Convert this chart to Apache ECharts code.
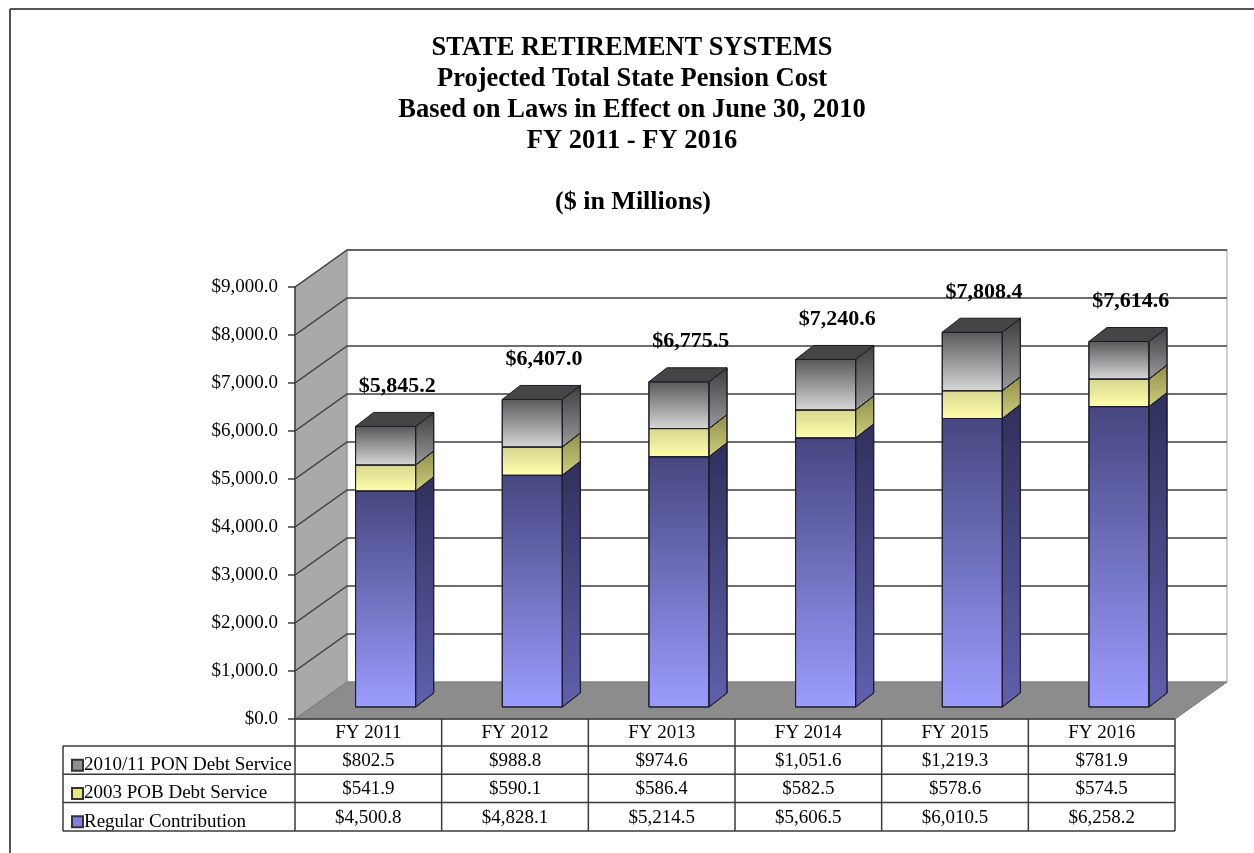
<!DOCTYPE html>
<html>
<head>
<meta charset="utf-8">
<script src="https://cdn.jsdelivr.net/npm/echarts@6/dist/echarts.min.js"></script>
<style>
html,body{margin:0;padding:0;background:#fff;}
#chart{width:1254px;height:853px;}
</style>
</head>
<body>
<div id="chart"></div>
<script>
// ---------- data ----------
const categories = ['FY 2011', 'FY 2012', 'FY 2013', 'FY 2014', 'FY 2015', 'FY 2016'];
const seriesNames = ['2010/11 PON Debt Service', '2003 POB Debt Service', 'Regular Contribution'];
const ponDebt = [802.5, 988.8, 974.6, 1051.6, 1219.3, 781.9];
const pobDebt = [541.9, 590.1, 586.4, 582.5, 578.6, 574.5];
const regular = [4500.8, 4828.1, 5214.5, 5606.5, 6010.5, 6258.2];
const totals = [5845.2, 6407.0, 6775.5, 7240.6, 7808.4, 7614.6];
const yTicks = [0, 1000, 2000, 3000, 4000, 5000, 6000, 7000, 8000, 9000];
const titleLines = ['STATE RETIREMENT SYSTEMS', 'Projected Total State Pension Cost', 'Based on Laws in Effect on June 30, 2010', 'FY 2011 - FY 2016'];
const subTitle = '($ in Millions)';

// ---------- style constants ----------
const FONT = '"Liberation Serif", "Times New Roman", serif';
const DX = 52, DY = -37;          // wall depth
const BAR_OX = 0.118, BAR_OY = -12; // bar front face offset into depth
const BAR_W = 0.41;               // front face width (fraction of band)
const BDX = 18, BDY = -14;        // bar depth
const fmt = v => '$' + v.toLocaleString('en-US', {minimumFractionDigits: 1, maximumFractionDigits: 1});

function grad(c1, c2) {
  return {type: 'linear', x: 0, y: 0, x2: 0, y2: 1, colorStops: [{offset: 0, color: c1}, {offset: 1, color: c2}]};
}
const palettes = {
  'Regular Contribution': {front: grad('#464680', '#9c9cff'), side: grad('#30305c', '#6060ae'), top: '#5a5a99', legend: '#8080e0'},
  '2003 POB Debt Service': {front: grad('#d6d690', '#ffffaa'), side: grad('#8e8e4c', '#cfcf7c'), top: '#b0b060', legend: '#e8e880'},
  '2010/11 PON Debt Service': {front: grad('#585858', '#d8d8d8'), side: grad('#3e3e3e', '#9a9a9a'), top: '#454545', legend: '#909090'}
};

const chart = echarts.init(document.getElementById('chart'), null, {renderer: 'canvas'});

function wallsRender(params, api) {
  const cs = params.coordSys;
  const L = cs.x, R = cs.x + cs.width;
  const y0 = api.coord([0, yTicks[0]])[1];
  const yMax = api.coord([0, yTicks[yTicks.length - 1]])[1];
  const children = [
    {type: 'rect', shape: {x: L + DX, y: yMax + DY, width: R - L, height: y0 - yMax},
     style: {fill: '#ffffff', stroke: '#c4c4c4', lineWidth: 1.5}},
    {type: 'polygon', shape: {points: [[L, yMax], [L + DX, yMax + DY], [L + DX, y0 + DY], [L, y0]]},
     style: {fill: '#a9a9a9', stroke: '#8c8c8c', lineWidth: 1}},
    {type: 'polygon', shape: {points: [[L, y0], [L + DX, y0 + DY], [R + DX, y0 + DY], [R, y0]]},
     style: {fill: '#8c8c8c', stroke: '#7a7a7a', lineWidth: 1}}
  ];
  yTicks.forEach(v => {
    if (v === 0) return;
    const y = api.coord([0, v])[1];
    children.push({type: 'line', shape: {x1: L + DX, y1: y + DY, x2: R + DX, y2: y + DY}, style: {stroke: '#3c3c3c', lineWidth: 1.5}});
    children.push({type: 'line', shape: {x1: L, y1: y, x2: L + DX, y2: y + DY}, style: {stroke: '#3c3c3c', lineWidth: 1.5}});
  });
  return {type: 'group', children: children};
}

function makeBarRender(name, drawTop) {
  const pal = palettes[name];
  return function (params, api) {
    const i = api.value(0), lo = api.value(1), hi = api.value(2);
    const pLo = api.coord([i, lo]), pHi = api.coord([i, hi]);
    const band = api.size([1, 0])[0];
    const fw = band * BAR_W;
    const xl = pLo[0] - fw / 2 + band * BAR_OX, xr = xl + fw;
    const yb = pLo[1] + BAR_OY, yt = pHi[1] + BAR_OY;
    const edge = {stroke: '#1c1c2a', lineWidth: 1};
    const ch = [
      {type: 'polygon', shape: {points: [[xl, yt], [xr, yt], [xr, yb], [xl, yb]]}, style: Object.assign({fill: pal.front}, edge)},
      {type: 'polygon', shape: {points: [[xr, yt], [xr + BDX, yt + BDY], [xr + BDX, yb + BDY], [xr, yb]]}, style: Object.assign({fill: pal.side}, edge)}
    ];
    if (drawTop) {
      ch.push({type: 'polygon', shape: {points: [[xl, yt], [xr, yt], [xr + BDX, yt + BDY], [xl + BDX, yt + BDY]]}, style: Object.assign({fill: pal.top}, edge)});
    }
    return {type: 'group', children: ch};
  };
}

function totalLabelRender(params, api) {
  const i = api.value(0), v = api.value(1);
  const p = api.coord([i, v]);
  const band = api.size([1, 0])[0];
  return {type: 'text', x: p[0] + band * 0.198, y: p[1] + BAR_OY - 40,
    style: {text: fmt(v), font: 'bold 22px ' + FONT, fill: '#000', align: 'center', verticalAlign: 'middle'}};
}

// stacked segments (bottom -> top)
const stackOrder = [['Regular Contribution', regular], ['2003 POB Debt Service', pobDebt], ['2010/11 PON Debt Service', ponDebt]];
const base = categories.map(() => 0);
const barSeries = stackOrder.map(([name, vals], k) => {
  const data = vals.map((v, i) => { const d = [i, base[i], base[i] + v]; base[i] += v; return d; });
  return {
    type: 'custom', name: name, z: 3, coordinateSystem: 'cartesian2d',
    renderItem: makeBarRender(name, k === stackOrder.length - 1),
    itemStyle: {color: palettes[name].legend, borderColor: '#333', borderWidth: 1},
    encode: {x: 0, y: [1, 2]},
    data: data
  };
});

const option = {
  backgroundColor: '#ffffff',
  animation: false,
  legend: {
    orient: 'vertical', left: 66, top: 746, itemGap: 0, itemWidth: 11, itemHeight: 11, icon: 'rect',
    data: seriesNames, selectedMode: false,
    textStyle: {fontFamily: FONT, fontSize: 19, color: '#000', lineHeight: 28.3, padding: [0, 0, 0, -4]}
  },
  grid: {left: 295, top: 287, width: 880, height: 432},
  xAxis: {type: 'category', data: categories, show: false},
  yAxis: {
    type: 'value', min: 0, max: 9000, interval: 1000, z: 6,
    axisLine: {show: true, lineStyle: {color: '#3c3c3c', width: 1.5}},
    axisTick: {show: true, length: 7, lineStyle: {color: '#3c3c3c', width: 1.5}},
    splitLine: {show: false},
    axisLabel: {margin: 17, fontFamily: FONT, fontSize: 19, color: '#000', formatter: v => fmt(v)}
  },
  series: [
    {type: 'custom', name: 'walls', z: 1, renderItem: wallsRender, data: [[0, 0]], silent: true, tooltip: {show: false}}
  ].concat(barSeries).concat([
    {type: 'custom', name: 'totals', z: 4, renderItem: totalLabelRender, data: totals.map((v, i) => [i, v]), silent: true}
  ])
};
chart.setOption(option);

// ---------- titles, data table, frame ----------
function buildTable() {
  const centers = categories.map((c, i) => chart.convertToPixel({xAxisIndex: 0}, i));
  const band = centers.length > 1 ? centers[1] - centers[0] : 880;
  const left = centers[0] - band / 2, right = centers[centers.length - 1] + band / 2;
  const y0 = chart.convertToPixel({yAxisIndex: 0}, 0);
  const headH = 27, rowH = 28.3, legL = 63;
  const rowsTop = y0 + headH;
  const tableRows = [ponDebt, pobDebt, regular];
  const els = [];
  const lineStyle = {stroke: '#3a3a3a', lineWidth: 1.5};
  const hl = (x1, x2, y) => els.push({type: 'line', shape: {x1, y1: y, x2, y2: y}, style: lineStyle, z: 10});
  const vl = (x, y1, y2) => els.push({type: 'line', shape: {x1: x, y1, x2: x, y2}, style: lineStyle, z: 10});
  const bottom = rowsTop + rowH * tableRows.length;
  hl(left, right, y0);
  for (let r = 0; r <= tableRows.length; r++) hl(legL, right, rowsTop + r * rowH);
  vl(legL, rowsTop, bottom);
  for (let k = 0; k <= categories.length; k++) vl(left + k * band, y0, bottom);
  categories.forEach((c, i) => {
    els.push({type: 'text', x: centers[i], y: y0 + headH / 2 + 1, z: 10,
      style: {text: c, font: '19px ' + FONT, fill: '#000', align: 'center', verticalAlign: 'middle'}});
    tableRows.forEach((vals, r) => {
      els.push({type: 'text', x: centers[i], y: rowsTop + rowH * (r + 0.5) + 1, z: 10,
        style: {text: fmt(vals[i]), font: '19px ' + FONT, fill: '#000', align: 'center', verticalAlign: 'middle'}});
    });
  });
  // titles
  titleLines.forEach((t, k) => {
    els.push({type: 'text', x: 632, y: 48 + k * 31, z: 10,
      style: {text: t, font: 'bold 26.5px ' + FONT, fill: '#000', align: 'center', verticalAlign: 'middle'}});
  });
  els.push({type: 'text', x: 633, y: 202, z: 10,
    style: {text: subTitle, font: 'bold 26px ' + FONT, fill: '#000', align: 'center', verticalAlign: 'middle'}});
  // page frame and clipped caption
  els.push({type: 'line', shape: {x1: 10, y1: 9, x2: 1254, y2: 9}, style: {stroke: '#555', lineWidth: 2}});
  els.push({type: 'line', shape: {x1: 10, y1: 9, x2: 10, y2: 853}, style: {stroke: '#555', lineWidth: 2}});
  els.push({type: 'text', x: 14, y: 6, style: {text: 'CHART 4', font: 'bold 26px ' + FONT, fill: '#000', verticalAlign: 'bottom'}});
  chart.setOption({graphic: {elements: els}});
}
buildTable();
</script>
</body>
</html>
